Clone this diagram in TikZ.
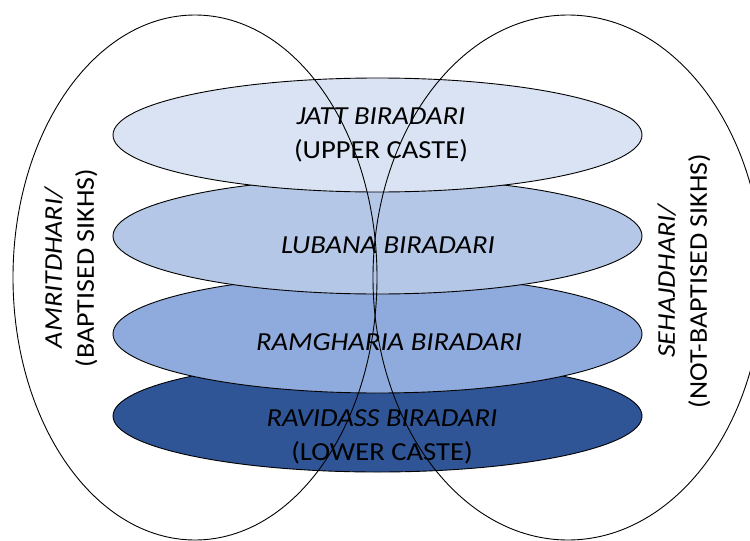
\documentclass[tikz,border=0pt]{standalone}
\usepackage{fontspec}
\setmainfont{Carlito}[FakeStretch=1.1]
\usetikzlibrary{shapes.geometric}
\definecolor{jattc}{HTML}{DAE3F3}
\definecolor{lubanac}{HTML}{B4C7E7}
\definecolor{ramc}{HTML}{8FAADC}
\definecolor{ravic}{HTML}{2F5597}
\begin{document}
\begin{tikzpicture}[x=1pt,y=-1pt,
  layer/.style={ellipse, draw=black, line width=0.9pt, inner sep=0pt, minimum width=529pt},
  group/.style={ellipse, draw=black, line width=0.9pt, inner sep=0pt, minimum height=525pt},
  lbl/.style={align=center, font=\fontsize{26}{34}\selectfont, inner sep=0pt},
  sidelbl/.style={align=center, font=\fontsize{25.5}{32}\selectfont, inner sep=0pt, rotate=90}]
\useasboundingbox (0,0) rectangle (750,541);
\clip (0,0) rectangle (750,541);
\node[layer, fill=ravic, minimum height=112pt] (ravi) at (377.5,416) {};
\node[layer, fill=ramc, minimum height=118pt] (ram) at (377.5,334) {};
\node[layer, fill=lubanac, minimum height=116pt] (lub) at (377.5,236) {};
\node[layer, fill=jattc, minimum height=114pt] (jatt) at (377.5,135) {};
\node[group, minimum width=364pt] (amrit) at (195,277.5) {};
\node[group, minimum width=390pt] (sehaj) at (568,277.5) {};
\node[lbl] (tjatt) at (381,134.5) {\itshape JATT BIRADARI\\(UPPER CASTE)};
\node[lbl] (tlub) at (388,245) {\itshape LUBANA BIRADARI};
\node[lbl] (tram) at (389,342) {\itshape RAMGHARIA BIRADARI};
\node[lbl] (travi) at (382,436.5) {\itshape RAVIDASS BIRADARI\\(LOWER CASTE)};
\node[sidelbl] (tamrit) at (71,268) {\itshape AMRITDHARI/\\(BAPTISED SIKHS)};
\node[sidelbl] (tsehaj) at (684,281) {\itshape SEHAJDHARI/\\(NOT-BAPTISED SIKHS)};
\end{tikzpicture}
\end{document}
